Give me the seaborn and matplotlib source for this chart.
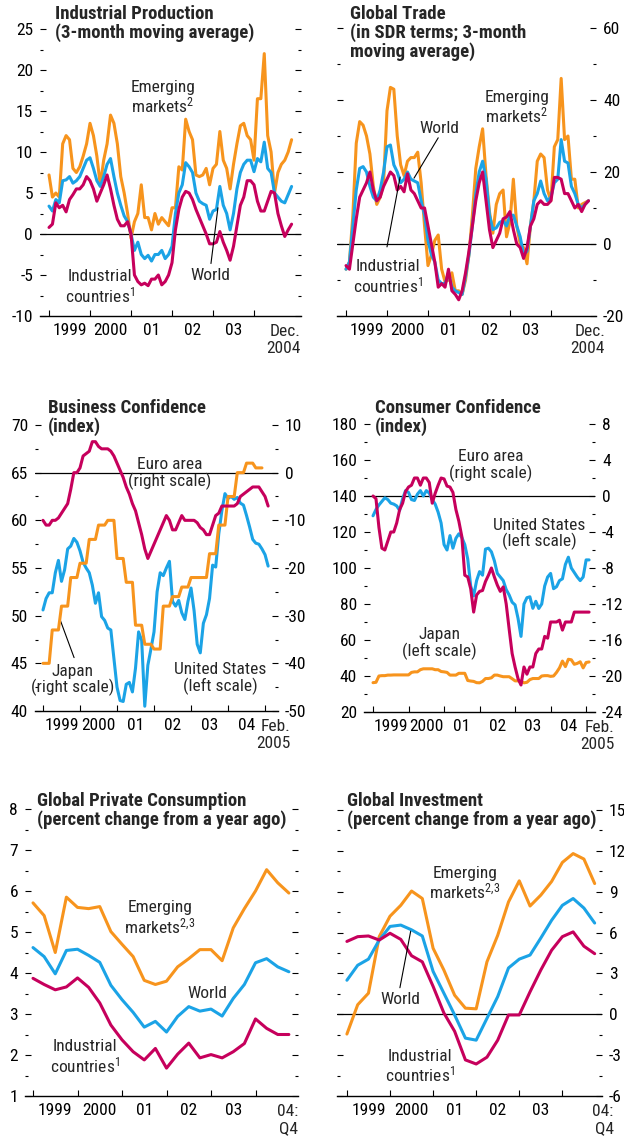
import numpy as np
import matplotlib
matplotlib.use('Agg')
import matplotlib.pyplot as plt
import seaborn as sns
from matplotlib.ticker import MultipleLocator
from matplotlib import font_manager

# ---------------- data ----------------
# Industrial production (monthly, Jan 1999 - Dec 2004)
ip_emerging = [7.2, 4.5, 5.0, 4.5, 11.0, 12.0, 11.5, 8.0, 7.5, 8.2, 9.5, 11.0,
               13.5, 12.0, 9.5, 6.0, 9.0, 11.0, 14.5, 13.5, 11.0, 7.0, 5.0, 2.5,
               -0.5, 1.5, 2.5, 6.0, 2.0, 2.0, 0.5, 2.5, 1.2, 2.0, 1.5, 1.0,
               3.2, 3.2, 8.2, 7.8, 14.0, 12.5, 11.5, 7.2, 7.0, 7.2, 8.0, 6.0,
               8.0, 8.5, 12.5, 9.0, 8.0, 5.5, 8.5, 11.0, 13.2, 13.5, 12.0, 11.5,
               9.0, 16.5, 16.5, 22.0, 12.0, 10.0, 5.0, 7.5, 8.5, 9.0, 10.0, 11.5]
ip_world = [3.4, 2.8, 4.2, 3.8, 6.5, 6.6, 7.0, 6.2, 6.5, 7.0, 8.0, 9.0,
            9.3, 8.0, 6.5, 5.8, 7.0, 8.5, 9.2, 7.0, 5.0, 3.5, 2.2, 1.5,
            0.0, -2.0, -1.0, -2.5, -3.0, -2.6, -3.3, -2.5, -2.5, -2.0, -3.0, -2.5,
            -1.5, 2.5, 5.0, 6.0, 8.7, 8.2, 7.5, 5.0, 4.0, 3.7, 3.5, 1.8,
            2.8, 3.0, 5.8, 3.5, 2.5, 0.5, 2.5, 5.5, 7.5, 8.5, 9.0, 9.0,
            7.6, 9.2, 8.8, 11.2, 8.0, 7.5, 5.0, 4.5, 4.0, 3.8, 4.8, 5.8]
ip_industrial = [0.8, 1.2, 3.8, 3.2, 3.5, 2.7, 4.2, 4.8, 5.5, 5.5, 6.0, 7.0,
                 6.5, 5.5, 4.0, 5.0, 6.0, 7.2, 5.5, 3.5, 1.8, 1.0, 1.0, 1.5,
                 0.0, -5.0, -5.8, -6.2, -6.0, -6.3, -5.5, -5.5, -5.0, -6.2, -5.8, -5.0,
                 -3.5, 0.5, 3.0, 4.5, 5.2, 5.0, 4.2, 3.0, 2.0, 1.0, 0.0, -1.2,
                 -1.2, -1.0, 0.3, -1.0, -2.0, -3.2, -1.5, 1.0, 3.5, 4.5, 6.5, 6.5,
                 6.0, 4.0, 2.8, 2.8, 4.0, 5.2, 5.0, 2.5, 1.0, -0.3, 0.5, 1.2]

# Global trade (monthly, Jan 1999 - Dec 2004)
tr_emerging = [-7, -5, 8, 28, 34, 33, 30, 25, 16, 11, 13, 17,
               37, 43.5, 43, 30, 22, 19, 23, 24, 24, 25.5, 17, 5,
               -6, -3, 1, 2.5, -7, -10.5, -10, -8, -13, -13, -14, -10,
               -3, 8, 21, 27, 32, 19, 9, 3, 11, 14, 15, 2,
               6, 18, 5, 0, -1, -5.5, 5, 12, 23, 25, 24, 15,
               12, 27, 29, 46, 29, 30, 18, 18, 10, 11, 11.5, 12]
tr_world = [-7, -5, 5, 15, 21, 21.5, 20, 16, 13, 12, 15, 20,
            27, 27.5, 22, 20, 17, 18, 20, 18, 17.5, 17, 12, 8,
            1, -3, -5, -10, -11, -11, -8, -12, -13, -13.5, -14, -9,
            -3, 5, 14, 20, 23, 18, 8, 4, 4.5, 6, 6.5, 5,
            8, 8, 5, 2, -3, -2, 5, 12, 14, 17.5, 14, 12,
            13, 17, 18, 29, 23, 22.5, 16, 14, 11, 10, 11, 12]
tr_industrial = [-6, -7, 0, 7, 13, 15, 17, 20, 15, 12, 13, 16,
                 18, 20, 19, 15, 16, 14.5, 19.5, 15, 14, 12, 10, 10,
                 5, 0, -5, -12, -11, -12, -7, -13, -14, -15.5, -13, -8,
                 -2, 5, 12, 17, 20, 12, 4, -1, 1, 3, 7, 7.5,
                 9, 4, 0, -1, -4, -1, 5, 7, 11, 12, 11, 11,
                 12, 18.5, 18.5, 18, 14, 14, 12, 10, 11, 9, 11, 12]

# Business confidence (monthly, Jan 1999 - Feb 2005)
bc_euro = [-10, -11, -11, -10, -10, -9.5, -8.5, -7.5, -6.5, -3.5, 0, 0,
           1, 3.5, 4, 4.5, 6.5, 6.5, 5.5, 5, 5, 5, 4.5, 3.5,
           2, 0.5, -1, -3, -4.5, -6.5, -8, -10.5, -13, -16, -18, -16.5,
           -15, -13.5, -12, -10.5, -9, -10, -12, -12, -10.5, -9, -10, -10,
           -10, -10, -10.5, -11.5, -12, -13, -13, -11, -9, -8.5, -7, -7,
           -7, -7, -7, -6.5, -5, -4.5, -4, -3.5, -3, -3, -3, -4,
           -5, -7]
bc_japan_q = [-40, -33, -28, -22, -19, -14, -11, -10, -18, -23, -32, -36,
              -37, -28, -26, -24, -22, -22, -17, -11, -5, 0, 2, 1]
bc_us = [50.6, 51.8, 52.4, 52.4, 54.5, 55.8, 53.6, 54.8, 57.0, 57.3, 58.1, 57.7,
         56.8, 55.6, 55.0, 54.5, 53.2, 51.3, 52.4, 49.9, 49.5, 48.7, 48.5, 45.5,
         42.5, 41.1, 41.0, 42.8, 43.0, 42.0, 44.5, 48.3, 47.4, 40.5, 44.8, 46.5,
         48.3, 52.5, 54.5, 54.2, 55.0, 55.7, 51.5, 51.0, 51.6, 50.3, 49.6, 51.5,
         52.9, 50.5, 47.0, 46.1, 49.2, 50.1, 51.8, 55.3, 55.1, 58.6, 61.0, 62.8,
         62.3, 62.5, 62.2, 62.4, 61.8, 61.6, 60.5, 59.3, 58.0, 57.6, 57.5, 57.0,
         56.4, 55.2]

# Consumer confidence (monthly, Jan 1999 - Feb 2005)
cc_us = [129, 132.5, 135, 137, 139, 138, 136, 135.5, 134.5, 132, 138.5, 143,
         142, 138, 137.5, 141, 143, 140, 143, 141.6, 138, 135.5, 131, 125,
         113, 110, 118, 111, 116.5, 119, 117, 113, 105, 90, 84.5, 93,
         98, 96, 110.5, 111, 109, 104, 97, 95, 93, 88, 85, 81,
         79.5, 72, 62, 80, 83.5, 84, 77.6, 81.5, 77.5, 80, 90, 95,
         97, 88.5, 89.6, 93, 94, 102, 106, 100, 97.5, 95, 93, 95,
         104.5, 104.5]
cc_euro = [0, -0.3, -3.5, -5.8, -6, -5, -4, -4, -3, -1.5, -0.8, 0.5,
           1.0, 1.2, 2, 2, 1.2, 2, 2, 1.5, -0.8, 0.3, 1.2, 2,
           1.9, 1.1, 1, 0.4, -1.5, -2.8, -4.5, -8.8, -9, -10.3, -12.9, -11,
           -10.6, -10.5, -9.5, -8.8, -8, -9, -9.9, -10.6, -10.1, -12, -14.8, -17.5,
           -19, -20.3, -21, -19, -19.8, -19, -19, -17.5, -17, -17, -15.6, -15.8,
           -14, -14, -14, -13.8, -14.9, -14, -14, -14, -12.9, -12.9, -12.9, -12.9,
           -12.9, -12.9]
cc_japan = [36.3, 36.5, 40, 40.2, 40.2, 40.5, 40.5, 40.6, 40.6, 40.6, 40.6, 40.6,
            40.6, 42, 42.3, 42.3, 43.5, 44, 44, 44, 44, 43.5, 43.5, 42.5,
            42.3, 42, 40.5, 40.5, 40.5, 41.5, 41.5, 41.5, 37.5, 37.2, 37, 36.3,
            36.2, 37, 38.6, 38.6, 39, 40.5, 40.5, 40, 39.6, 39.6, 39.6, 38.5,
            37.3, 37.3, 37, 36.2, 36.5, 38, 38.6, 38.6, 38.6, 40, 40.2, 40.2,
            39.8, 40, 42, 44.5, 48.3, 45.2, 49.3, 49, 46.5, 47, 47.9, 44.5,
            47.5, 47.8]

# Private consumption (quarterly, 1999Q1 - 2004Q4)
pc_emerging = [5.71, 5.40, 4.50, 5.85, 5.60, 5.57, 5.62, 5.01, 4.70, 4.40, 3.82, 3.72,
               3.80, 4.15, 4.35, 4.57, 4.57, 4.30, 5.10, 5.57, 6.00, 6.52, 6.20, 5.95]
pc_world = [4.62, 4.40, 3.98, 4.55, 4.58, 4.43, 4.26, 3.70, 3.35, 3.04, 2.68, 2.82,
            2.56, 2.94, 3.18, 3.07, 3.12, 2.95, 3.38, 3.72, 4.25, 4.35, 4.15, 4.03]
pc_industrial = [3.87, 3.72, 3.59, 3.66, 3.88, 3.65, 3.27, 2.73, 2.37, 2.08, 1.88, 2.16,
                 1.68, 2.02, 2.29, 1.93, 2.01, 1.93, 2.08, 2.28, 2.88, 2.65, 2.50, 2.50]

# Investment (quarterly, 1999Q1 - 2004Q4)
inv_emerging = [-1.45, 0.7, 1.55, 5.7, 7.2, 8.0, 9.05, 8.5, 4.85, 3.25, 1.4, 0.45,
                0.4, 3.85, 5.8, 8.25, 9.8, 7.95, 8.75, 9.75, 11.15, 11.8, 11.4, 9.6]
inv_world = [2.5, 3.6, 4.05, 5.45, 6.45, 6.55, 6.2, 5.75, 3.15, 1.55, -0.05, -1.75,
             -1.9, -0.3, 1.3, 3.4, 4.05, 4.35, 5.6, 6.9, 8.0, 8.5, 7.8, 6.7]
inv_industrial = [5.35, 5.7, 5.75, 5.45, 5.95, 5.5, 4.3, 3.85, 2.05, 0.1, -1.25, -3.35,
                  -3.65, -3.15, -1.9, -0.05, -0.05, 1.65, 3.25, 4.7, 5.7, 6.05, 5.0, 4.45]

years_short = ['1999', '2000', '01', '02', '03']
years_long = ['1999', '2000', '01', '02', '03', '04']

# ---------------- style ----------------
sns.set_theme(style='white')
avail = {f.name for f in font_manager.fontManager.ttflist}
NARROW = 'DejaVu Sans'
for cand in ['Liberation Sans Narrow', 'Arial Narrow', 'Roboto Condensed',
             'Archivo Narrow', 'PT Sans Narrow', 'Arimo']:
    if cand in avail:
        NARROW = cand
        break
plt.rcParams['font.family'] = [NARROW, 'DejaVu Sans']
if NARROW == 'DejaVu Sans':
    plt.rcParams['font.stretch'] = 'condensed'
plt.rcParams['mathtext.fontset'] = 'custom'
plt.rcParams['mathtext.rm'] = NARROW
plt.rcParams['mathtext.it'] = NARROW
plt.rcParams['mathtext.bf'] = NARROW + ':bold'
plt.rcParams['axes.unicode_minus'] = False

ORANGE = '#F7941D'
BLUE = '#1BA3E6'
MAGENTA = '#C6005C'
LW = 2.2
FS = 12.5
TFS = 13.5

W, H = 624, 1142
fig = plt.figure(figsize=(W / 100, H / 100), dpi=100)


def add_ax(l, r, t, b):
    return fig.add_axes([l / W, 1 - b / H, (r - l) / W, (b - t) / H])


def line(ax, x, y, color):
    sns.lineplot(x=np.asarray(x, float), y=np.asarray(y, float), ax=ax, color=color,
                 linewidth=LW, estimator=None, sort=False, legend=False)
    ax.set_xlabel('')
    ax.set_ylabel('')


def style_x(ax, xlim, n_ticks, labels, end_text, end_x):
    ax.set_xlim(*xlim)
    for s in ['left', 'right', 'top']:
        ax.spines[s].set_visible(False)
    ax.spines['bottom'].set_visible(True)
    ax.spines['bottom'].set_color('black')
    ax.spines['bottom'].set_linewidth(1.0)
    ax.set_xticks([1999 + k for k in range(n_ticks)])
    ax.set_xticklabels([])
    ax.set_xticks([1999.5 + k for k in range(len(labels))], minor=True)
    ax.set_xticklabels(labels, minor=True)
    ax.tick_params(axis='x', which='major', direction='in', length=4, width=0.8,
                   color='black', bottom=True)
    ax.tick_params(axis='x', which='minor', length=0, pad=5, labelsize=FS,
                   labelcolor='black', bottom=True)
    ax.text(end_x, -0.028, end_text, transform=ax.get_xaxis_transform(), ha='right',
            va='top', fontsize=FS, multialignment='right', linespacing=1.15)


def style_y(ax, ylim, major, minor, left=True, right=True, labelleft=False, labelright=False):
    ax.set_ylim(*ylim)
    ax.yaxis.set_major_locator(MultipleLocator(major))
    ax.yaxis.set_minor_locator(MultipleLocator(minor))
    ax.tick_params(axis='y', which='both', direction='in', left=left, right=right,
                   labelleft=labelleft, labelright=labelright, labelsize=FS, pad=5,
                   color='black', labelcolor='black')
    ax.tick_params(axis='y', which='major', length=4, width=0.8)
    ax.tick_params(axis='y', which='minor', length=2, width=0.8)


def title(px, py, txt):
    fig.text(px / W, 1 - py / H, txt, fontsize=TFS, fontweight='bold', va='top',
             ha='left', linespacing=1.02)


def label(ax, x, y, txt, ha='center'):
    ax.text(x, y, txt, fontsize=FS, ha=ha, va='center', linespacing=1.05, zorder=5)


def leader(ax, p0, p1):
    ax.plot([p0[0], p1[0]], [p0[1], p1[1]], color='black', lw=0.8, zorder=4)


m72 = 1999 + np.arange(72) / 12
m74 = 1999 + np.arange(74) / 12
q24 = 1999 + np.arange(24) / 4

# ---------- Panel 1: Industrial production ----------
ax1 = add_ax(40, 301, 29, 316)
ax1.axhline(0, color='black', lw=0.9, zorder=1)
line(ax1, m72, ip_emerging, ORANGE)
line(ax1, m72, ip_world, BLUE)
line(ax1, m72, ip_industrial, MAGENTA)
style_x(ax1, (1998.78, 2005.146), 6, years_short, 'Dec.\n2004', 2005.14)
style_y(ax1, (-10, 25), 5, 2.5, labelleft=True)
label(ax1, 2001.78, 16.6, 'Emerging\nmarkets$^2$')
label(ax1, 2000.24, -6.5, 'Industrial\ncountries$^1$')
label(ax1, 2002.93, -5.1, 'World')
leader(ax1, (2002.95, -3.6), (2003.12, 3.2))
title(55, 5, 'Industrial Production\n(3-month moving average)')

# ---------- Panel 2: Global trade ----------
ax2 = add_ax(337, 596, 28, 316)
ax2.axhline(0, color='black', lw=0.9, zorder=1)
line(ax2, m72, tr_emerging, ORANGE)
line(ax2, m72, tr_world, BLUE)
line(ax2, m72, tr_industrial, MAGENTA)
style_x(ax2, (1998.78, 2005.10), 6, years_short, 'Dec.\n2004', 2005.32)
style_y(ax2, (-20, 60), 20, 10, labelright=True)
label(ax2, 2001.29, 32.2, 'World')
leader(ax2, (2001.25, 29.5), (2000.66, 18.3))
label(ax2, 2003.17, 37.8, 'Emerging\nmarkets$^2$')
label(ax2, 2000.02, -9.2, 'Industrial\ncountries$^1$')
leader(ax2, (2000.0, -0.8), (2000.32, 18.6))
title(350, 5, 'Global Trade\n(in SDR terms; 3-month\nmoving average)')

# ---------- Panel 3: Business confidence ----------
ax3 = add_ax(35, 278, 425, 711)
ax3r = ax3.twinx()
ax3.axhline(65, color='black', lw=0.9, zorder=1)
line(ax3, m74, bc_us, BLUE)
line(ax3r, m74[:72], np.repeat(bc_japan_q, 3), ORANGE)
line(ax3r, m74, bc_euro, MAGENTA)
style_x(ax3, (1998.784, 2005.35), 7, years_long, 'Feb.\n2005', 2005.68)
style_y(ax3, (40, 70), 5, 2.5, left=True, right=False, labelleft=True)
style_y(ax3r, (-50, 10), 10, 5, left=False, right=True, labelright=True)
for s in ax3r.spines.values():
    s.set_visible(False)
label(ax3, 2002.43, 64.9, 'Euro area\n(right scale)')
label(ax3, 1999.81, 43.25, 'Japan\n(right scale)')
leader(ax3, (1999.84, 45.6), (1999.46, 49.6))
label(ax3, 2003.78, 43.4, 'United States\n(left scale)')
title(48, 399, 'Business Confidence\n(index)')

# ---------- Panel 4: Consumer confidence ----------
ax4 = add_ax(364, 595, 424, 712)
ax4r = ax4.twinx()
ax4.axhline(140, color='black', lw=0.9, zorder=1)
line(ax4, m74, cc_us, BLUE)
line(ax4, m74, cc_japan, ORANGE)
line(ax4r, m74, cc_euro, MAGENTA)
style_x(ax4, (1998.746, 2005.25), 7, years_long, 'Feb.\n2005', 2005.79)
style_y(ax4, (20, 180), 20, 10, left=True, right=False, labelleft=True)
style_y(ax4r, (-24, 8), 4, 2, left=False, right=True, labelright=True)
for s in ax4r.spines.values():
    s.set_visible(False)
label(ax4, 2002.32, 157.2, 'Euro area\n(right scale)')
label(ax4, 2003.68, 118.9, 'United States\n(left scale)')
label(ax4, 2000.86, 57.8, 'Japan\n(left scale)')
title(375, 399, 'Consumer Confidence\n(index)')

# ---------- Panel 5: Private consumption ----------
ax5 = add_ax(25, 298, 809, 1096)
line(ax5, q24, pc_emerging, ORANGE)
line(ax5, q24, pc_world, BLUE)
line(ax5, q24, pc_industrial, MAGENTA)
style_x(ax5, (1998.82, 2004.955), 6, years_short, '04:\nQ4', 2004.955)
style_y(ax5, (1, 8), 1, 0.5, labelleft=True)
label(ax5, 2001.85, 5.34, 'Emerging\nmarkets$^{2{,}3}$')
label(ax5, 2002.91, 3.51, 'World')
label(ax5, 2000.17, 1.95, 'Industrial\ncountries$^1$')
title(37, 792, 'Global Private Consumption\n(percent change from a year ago)')

# ---------- Panel 6: Investment ----------
ax6 = add_ax(337, 602, 810, 1096)
ax6.axhline(0, color='black', lw=0.9, zorder=1)
line(ax6, q24, inv_emerging, ORANGE)
line(ax6, q24, inv_world, BLUE)
line(ax6, q24, inv_industrial, MAGENTA)
style_x(ax6, (1998.77, 2004.92), 6, years_short, '04:\nQ4', 2005.19)
style_y(ax6, (-6, 15), 3, 1.5, labelright=True)
label(ax6, 2001.74, 9.57, 'Emerging\nmarkets$^{2{,}3}$')
label(ax6, 2000.25, 1.05, 'World')
leader(ax6, (2000.23, 1.95), (2000.48, 6.1))
label(ax6, 2000.69, -3.87, 'Industrial\ncountries$^1$')
title(347, 792, 'Global Investment\n(percent change from a year ago)')

fig.savefig('out.png', dpi=100)
